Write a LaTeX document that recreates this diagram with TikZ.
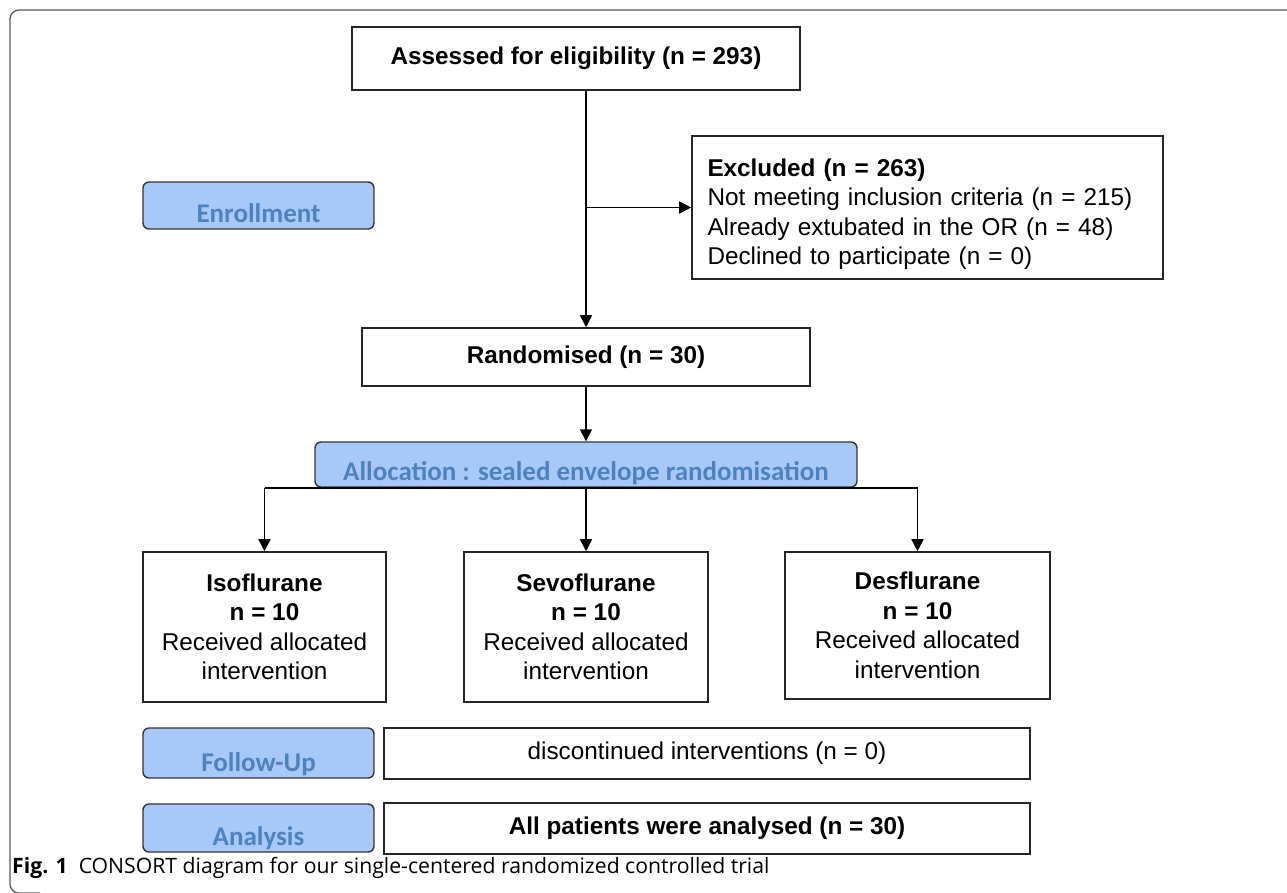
\documentclass[tikz,border=0pt]{standalone}
\usepackage{fontspec}
\setmainfont{Liberation Sans}
\newfontfamily\phasefont{Carlito}
\newfontfamily\capfont{Open Sans}
\usetikzlibrary{positioning,arrows.meta,calc}
\definecolor{PhaseFill}{HTML}{A9C8FA}
\definecolor{PhaseText}{HTML}{4F81BD}
\definecolor{FrameGray}{HTML}{5A5A5A}

\begin{document}
\begin{tikzpicture}[x=1pt, y=-1pt,
      box/.style={draw=black!85, line width=1.6pt, rectangle, inner sep=0pt,
                  font=\fontsize{24.3}{29.5}\selectfont, align=center},
      boldbox/.style={box, font=\bfseries\fontsize{24.3}{29.5}\selectfont},
      phase/.style={draw=black!80, line width=1.4pt, rounded corners=6pt,
                    fill=PhaseFill, text=PhaseText, inner sep=0pt, text depth=7pt,
                    font=\phasefont\bfseries\fontsize{27}{30}\selectfont},
      ar/.style={-{Triangle[length=12pt,width=12pt]}, line width=1.7pt},
      frame/.style={draw=FrameGray, line width=1.3pt, rounded corners=9pt},
    ]
      \useasboundingbox (0,0) rectangle (1287,892);
      \draw[frame] (1300,10) -- (10,10) -- (10,893) -- (40,893);
      % enrollment
      \node[boldbox, minimum width=448pt, minimum height=63pt] (assess) at (576,58.5)
            {Assessed for eligibility (n = 293)};
      \node[box, minimum width=471pt, minimum height=143pt, align=left, text width=440pt]
            (excl) at (927.5,207.5)
            {\rule{0pt}{31pt}\textbf{Excluded (n = 263)}\\Not meeting inclusion criteria (n = 215)\\
             Already extubated in the OR (n = 48)\\Declined to participate (n = 0)};
      \node[phase, minimum width=231pt, minimum height=47pt, text height=40pt]
            (enrol) at (258.5,205.5) {Enrollment};
      \node[boldbox, minimum width=448pt, minimum height=58pt] (rand) at (586,357)
            {Randomised (n = 30)};
      % allocation
      \node[phase, minimum width=542pt, minimum height=45pt, text height=38pt]
            (alloc) at (586,464.5) {Allocation : sealed envelope randomisation};
      \node[box, minimum width=243pt, minimum height=150pt] (iso) at (264.5,627)
            {\textbf{Isoflurane}\\\textbf{n = 10}\\Received allocated\\intervention};
      \node[box, minimum width=244pt, minimum height=150pt] (sevo) at (586,627)
            {\textbf{Sevoflurane}\\\textbf{n = 10}\\Received allocated\\intervention};
      \node[box, minimum width=265pt, minimum height=147pt] (des) at (917.5,625.5)
            {\textbf{Desflurane}\\\textbf{n = 10}\\Received allocated\\intervention};
      % follow-up and analysis
      \node[phase, minimum width=231pt, minimum height=50pt, text height=43pt]
            (follow) at (258.5,753) {Follow-Up};
      \node[box, minimum width=646pt, minimum height=51pt] (disc) at (707,753.5)
            {discontinued interventions (n = 0)};
      \node[phase, minimum width=231pt, minimum height=48pt, text height=41pt]
            (analysis) at (258.5,828) {Analysis};
      \node[boldbox, minimum width=646pt, minimum height=51pt] (allpat) at (707,828.5)
            {All patients were analysed (n = 30)};
      \node[anchor=base west, inner sep=0pt, font=\capfont\fontsize{21.2}{24}\selectfont]
            (caption) at (12,873)
            {\textbf{Fig. 1}\hspace{11pt}CONSORT diagram for our single-centered randomized controlled trial};
      % connectors
      \draw[ar] (assess.south -| rand.north) -- (rand.north);
      \draw[ar] (excl.west -| rand.north) -- (excl.west);
      \draw[ar] (rand.south) -- (alloc.north);
      \draw[line width=1.7pt] (iso.north |- alloc.south) -- (des.north |- alloc.south);
      \foreach \g in {iso,sevo,des}
        \draw[ar] (\g.north |- alloc.south) -- (\g.north);
    \end{tikzpicture}
\end{document}
